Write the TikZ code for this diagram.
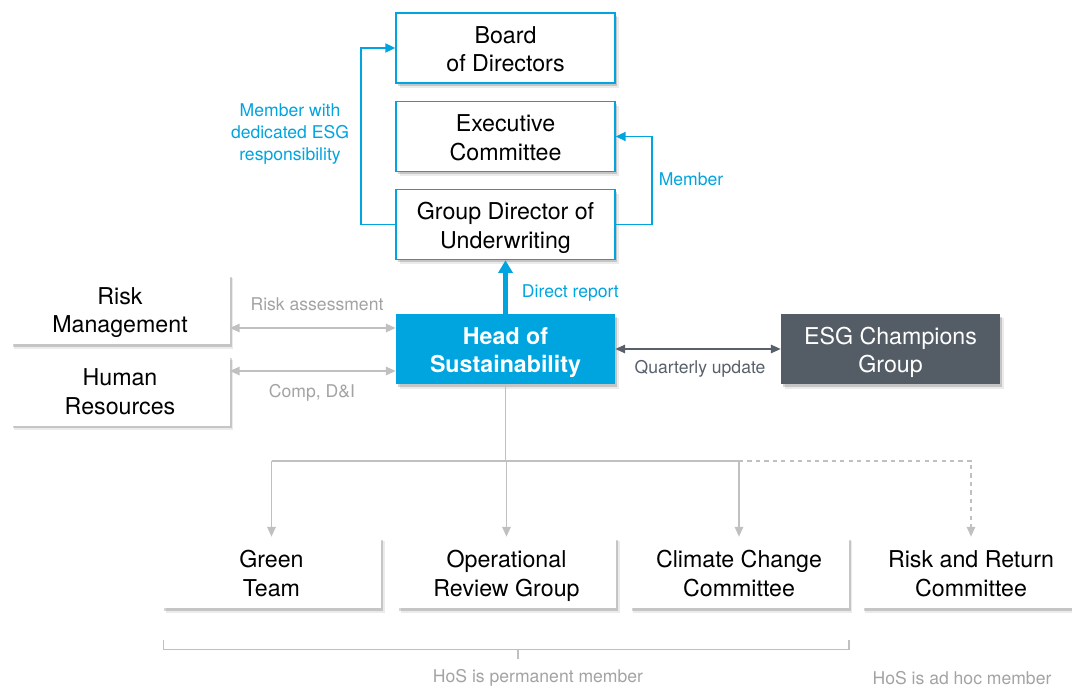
\documentclass[tikz,border=0pt]{standalone}
\usepackage{fontspec}
\setmainfont{TeX Gyre Heros}
\definecolor{hsblue}{RGB}{0,164,222}
\definecolor{hsslate}{RGB}{84,92,102}
\definecolor{hsgray}{RGB}{192,192,192}
\definecolor{hstext}{RGB}{88,96,106}
\usetikzlibrary{arrows.meta,positioning,calc,shadows}

\tikzset{
  softshadow/.style={drop shadow={shadow xshift=1.5pt, shadow yshift=-2pt, fill=black, opacity=.16},
                     drop shadow={shadow xshift=2.6pt, shadow yshift=-3.2pt, fill=black, opacity=.08}},
  box/.style={minimum width=5.475cm, minimum height=1.75cm, inner sep=0pt, align=center, fill=white, softshadow,
              font=\fontsize{16.5}{20.3}\selectfont,
              execute at begin node={\rule{0pt}{37.5pt}}, execute at end node={\rule[-3.8pt]{0pt}{3.8pt}}},
  bluebox/.style={box, draw=hsblue, line width=1.1pt},
  lbl/.style={font=\fontsize{12.5}{15.3}\selectfont, align=center},
  bluearr/.style={draw=hsblue, line width=1.1pt, -{Triangle[length=7pt,width=6.5pt]}},
  softarr/.style={draw=hsgray, line width=1.1pt, {Triangle[length=7pt,width=6pt]}-{Triangle[length=7pt,width=6pt]}},
  treearr/.style={draw=hsgray, line width=1.1pt, -{Triangle[length=7pt,width=6pt]}}
}

\begin{document}
\begin{tikzpicture}[x=0.025cm, y=-0.025cm]
  \useasboundingbox (0,0) rectangle (1072,688);
  % Governance chain
  \node[bluebox] (board) at (505.5,48) {Board\\of Directors};
  \node[bluebox] (exec) at (505.5,136.5) {Executive\\Committee};
  \node[bluebox] (gdu) at (505.5,224.5) {Group Director of\\Underwriting};
  \draw[bluearr] (gdu.west) -- ++(-34,0) |- (board.west);
  \draw[bluearr] (gdu.east) -- ++(36,0) |- (exec.east);
  \node[lbl, text=hsblue] at (290,134) {Member with\\dedicated ESG\\responsibility};
  \node[lbl, text=hsblue] at (691,179) {Member};
  % Head of Sustainability
  \node[box, fill=hsblue, text=white, font=\fontsize{16.5}{20.3}\selectfont\bfseries] (hos) at (505.5,349) {Head of\\Sustainability};
  \draw[draw=hsblue, line width=2.9pt, -{Triangle[length=9pt,width=10pt]}] (hos.north) -- (gdu.south);
  \node[lbl, text=hsblue, anchor=west] at (517,293) {Direct report};
  % Side functions
  \node[box] (risk) at (120,309) {Risk\\Management};
  \node[box] (hr) at (120,390.5) {Human\\Resources};
  \draw[softarr] ($(risk.east)+(0,19)$) -- ($(hos.west)+(0,-21)$);
  \draw[softarr] ($(hr.east)+(0,-19.5)$) -- ($(hos.west)+(0,22)$);
  \node[lbl, text=hsgray!85!black] at (317,304) {Risk assessment};
  \node[lbl, text=hsgray!85!black] at (312,393) {Comp, D\&I};
  % ESG Champions
  \node[box, fill=hsslate, text=white] (champ) at (890.5,349) {ESG Champions\\Group};
  \draw[draw=hstext, line width=1.1pt, {Triangle[length=7pt,width=6pt]}-{Triangle[length=7pt,width=6pt]}] (hos.east) -- (champ.west);
  \node[lbl, text=hstext] at (700,369) {Quarterly update};
  % Committees
  \node[box, minimum height=1.775cm] (green) at (271.5,572.5) {Green\\Team};
  \node[box, minimum height=1.775cm] (orc) at (506.5,572.5) {Operational\\Review Group};
  \node[box, minimum height=1.775cm] (ccc) at (739,572.5) {Climate Change\\Committee};
  \node[box, minimum height=1.775cm] (rrc) at (971,572.5) {Risk and Return\\Committee};
  \draw[draw=hsgray, line width=1.1pt] (hos.south) -- ++(0,76.5) coordinate (split);
  \draw[draw=hsgray, line width=1.1pt] (green.north |- split) -- (ccc.north |- split);
  \draw[treearr] (green.north |- split) -- (green.north);
  \draw[treearr] (orc.north |- split) -- (orc.north);
  \draw[treearr] (ccc.north |- split) -- (ccc.north);
  \draw[treearr, dashed] (ccc.north |- split) -| (rrc.north);
  % Membership brackets
  \draw[draw=hsgray, line width=1pt] ($(green.south west)+(2,32)$) -- ++(0,9) -| ($(ccc.south east)+(0,32)$);
  \draw[draw=hsgray, line width=1pt] (518,649.5) -- (518,659);
  \node[lbl, text=hsgray!85!black] at (538,678) {HoS is permanent member};
  \node[lbl, text=hsgray!85!black] at (962,678) {HoS is ad hoc member};
\end{tikzpicture}
\end{document}
